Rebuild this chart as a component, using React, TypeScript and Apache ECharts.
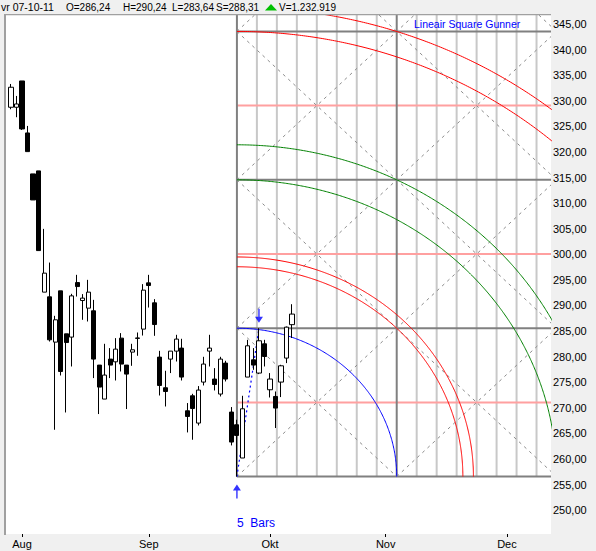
import React, { useEffect, useRef } from 'react';
import * as echarts from 'echarts';

// ---------- data ----------
const quoteDate = 'vr 07-10-11';
const lastVolume = '1.232.919';
const toolName = 'Lineair Square Gunner';
const barsLabel = '5  Bars';

const monthLabels = ['Aug', 'Sep', 'Okt', 'Nov', 'Dec'];
const monthBarIndex = [2, 25, 47, 68, 90];
const priceTicks = [250, 255, 260, 265, 270, 275, 280, 285, 290, 295, 300, 305, 310, 315, 320, 325, 330, 335, 340, 345];

const candleOpen = [
  328.73, 328.73, 333.87, 323.71, 315.7, 316.29, 292.6, 291.68, 282.83, 292.85,
  284.45, 283.81, 294.47, 290.96, 289.47, 288.95, 278.34, 271.7, 279.51, 278.98,
  283.61, 278.34, 280.88, 283.55, 285.37, 294.41, 290.51, 279.9, 273.91, 279.51,
  281.07, 281.66, 269.41, 272.34, 267.01, 275.02, 281.07, 275.61, 272.68, 278.73,
  269.16, 266.68, 260.18, 276.0, 279.37, 276.78, 282.5, 273.52, 272.21, 275.02,
  279.71, 286.24,
];
const candleClose = [
  332.64, 329.37, 324.49, 320.06, 310.62, 300.72, 296.31, 283.28, 287.19, 277.09,
  282.75, 291.87, 293.69, 291.43, 292.6, 279.51, 274.04, 276.39, 278.34, 281.46,
  278.54, 276.58, 281.33, 283.65, 292.99, 293.89, 286.27, 274.36, 273.18, 281.07,
  283.42, 276.0, 268.3, 269.86, 273.46, 278.54, 281.66, 274.55, 279.51, 275.61,
  263.3, 264.59, 269.8, 282.11, 278.34, 283.09, 280.02, 275.61, 269.94, 278.2,
  285.76, 288.31,
];
const candleLow = [
  328.34, 326.78, 324.3, 320.06, 310.62, 300.72, 292.6, 282.95, 265.7, 276.31,
  269.08, 278.07, 291.74, 287.19, 286.86, 275.8, 268.77, 271.7, 275.8, 275.33,
  277.09, 269.75, 278.2, 280.16, 284.12, 289.59, 284.06, 272.4, 270.25, 276.78,
  279.04, 275.33, 265.18, 263.75, 266.54, 274.36, 278.07, 273.38, 272.21, 275.14,
  262.64, 256.55, 260.18, 276.0, 277.42, 276.58, 278.07, 272.01, 266.04, 272.09,
  278.73, 283.64,
];
const candleHigh = [
  333.28, 330.94, 333.87, 325.08, 315.7, 316.29, 304.96, 298.38, 287.97, 292.85,
  284.45, 292.27, 295.98, 292.21, 295.0, 291.09, 278.34, 282.5, 281.66, 283.61,
  284.59, 278.34, 282.5, 284.71, 294.16, 295.98, 291.23, 281.13, 277.23, 281.07,
  284.26, 283.48, 270.92, 272.73, 274.24, 279.96, 284.26, 277.75, 279.96, 279.18,
  270.14, 267.66, 272.34, 283.28, 281.66, 285.55, 283.28, 276.78, 273.18, 278.4,
  285.88, 290.24,
];

// Gann square anchor (low bar -> high bar)
const squareStartBar = 41;
const squareHighBar = 45;
const squareLow = 256.55;
const squareHigh = 285.55;
const arcRadii = [1, 1.414, 1.48, 2, 2.236, 3, 3.162];

// ---------- styles / layout ----------
const arcColors = ['#0000ff', '#ff0000', '#ff0000', '#008000', '#008000', '#ff0000', '#ff0000'];
const X_MIN = -1.09;
const X_MAX = 98.0;
const Y_MIN = 245.33;
const Y_MAX = 346.76;
const FONT = '"Liberation Sans", Arial, sans-serif';

const fmt = (v: number) => v.toFixed(2).replace('.', ',');

export default function App() {
  const ref = useRef<HTMLDivElement>(null);

  useEffect(() => {
    const chart = echarts.init(ref.current!, null, { renderer: 'svg' });
    const S = squareHigh - squareLow; // price per square
    const B = S; // bars per square (1 bar = 1 point)
    const series: any[] = [];
    const seg = (data: number[][], color: string, width: number, type: any, z: number) =>
      series.push({
        type: 'line',
        data,
        showSymbol: false,
        symbol: 'none',
        silent: true,
        clip: true,
        animation: false,
        lineStyle: { color, width, type },
        z,
      });

    // vertical grid of the square (eighths)
    for (let k = 0; k <= 16; k++) {
      const x = squareStartBar + (k * B) / 8;
      if (x > X_MAX) break;
      const thick = k % 8 === 0;
      seg([[x, squareLow], [x, Y_MAX]], thick ? '#808080' : '#c8c8c8', 2, 'solid', thick ? 3 : 1);
    }
    // horizontal square lines and half lines
    for (let m = 0; m < 20; m++) {
      const y = squareLow + (m * S) / 2;
      if (y > Y_MAX) break;
      const thick = m % 2 === 0;
      seg([[squareStartBar, y], [X_MAX, y]], thick ? '#808080' : '#ffa0a0', 2, 'solid', thick ? 3 : 2);
    }
    // diagonals
    const U = (X_MAX - squareStartBar) / B;
    const V = (Y_MAX - squareLow) / S;
    const toData = (u: number, v: number) => [squareStartBar + u * B, squareLow + v * S];
    for (let n = -Math.ceil(U); n <= Math.ceil(V); n++) {
      const u0 = Math.max(0, -n);
      const u1 = Math.min(U, V - n);
      if (u1 > u0) seg([toData(u0, u0 + n), toData(u1, u1 + n)], '#8c8c8c', 1, [3, 4], 4);
    }
    for (let n = 1; n <= Math.ceil(U + V); n++) {
      const u0 = Math.max(0, n - V);
      const u1 = Math.min(U, n);
      if (u1 > u0) seg([toData(u0, n - u0), toData(u1, n - u1)], '#8c8c8c', 1, [3, 4], 4);
    }
    // arcs
    arcRadii.forEach((r, i) => {
      const pts: number[][] = [];
      for (let a = 0; a <= 360; a++) {
        const t = (a / 360) * (Math.PI / 2);
        pts.push(toData(r * Math.cos(t), r * Math.sin(t)));
      }
      seg(pts, arcColors[i], 1, 'solid', 5);
    });
    // low -> high dashed line
    seg([[squareStartBar, squareLow], [squareHighBar, squareHigh]], '#0000ff', 1.2, [2, 3], 6);

    // candles
    series.push({
      type: 'candlestick',
      data: candleOpen.map((o, i) => [i, o, candleClose[i], candleLow[i], candleHigh[i]]),
      encode: { x: 0, y: [1, 2, 3, 4] },
      barWidth: 4.6,
      silent: true,
      itemStyle: {
        color: '#ffffff',
        color0: '#000000',
        borderColor: '#000000',
        borderColor0: '#000000',
        borderWidth: 1,
      },
      z: 10,
    });

    // arrows
    const arrowPath = 'path://M4,0 L8,6 L4.7,6 L4.7,14 L3.3,14 L3.3,6 L0,6 Z';
    series.push({
      type: 'scatter',
      data: [[squareStartBar, squareLow - 2.9]],
      symbol: arrowPath,
      symbolSize: [8, 14],
      itemStyle: { color: '#0000ff' },
      silent: true,
      z: 11,
    });
    series.push({
      type: 'scatter',
      data: [[squareHighBar, squareHigh + 2.45]],
      symbol: arrowPath,
      symbolSize: [8, 14],
      symbolRotate: 180,
      itemStyle: { color: '#0000ff' },
      silent: true,
      z: 11,
    });

    const last = candleOpen.length - 1;
    const txt = (text: string, x: number, y: number, fill = '#000', size = 10) => ({
      type: 'text',
      x,
      y,
      silent: true,
      style: {
        text,
        fill,
        font: `${size}px ${FONT}`,
        textVerticalAlign: 'middle',
        verticalAlign: 'middle',
      },
      z: 200,
    });

    chart.setOption({
      animation: false,
      backgroundColor: 'transparent',
      grid: {
        left: 5,
        top: 15,
        width: 546,
        height: 519,
        show: true,
        backgroundColor: '#ffffff',
        borderWidth: 0,
        containLabel: false,
        outerBoundsMode: 'none',
      },
      xAxis: {
        type: 'value',
        min: X_MIN,
        max: X_MAX,
        position: 'bottom',
        axisLine: { show: false },
        splitLine: { show: false },
        axisTick: {
          show: true,
          customValues: monthBarIndex,
          length: 3,
          inside: false,
          lineStyle: { color: '#000', width: 1 },
        },
        axisLabel: {
          customValues: monthBarIndex,
          formatter: (v: number) => {
            const idx = monthBarIndex.indexOf(Math.round(v));
            return idx >= 0 ? monthLabels[idx] : '';
          },
          color: '#000',
          fontSize: 11,
          fontFamily: FONT,
          margin: 4,
        },
      },
      yAxis: {
        type: 'value',
        position: 'right',
        min: Y_MIN,
        max: Y_MAX,
        scale: true,
        axisLine: { show: false },
        axisTick: { show: false },
        splitLine: { show: false },
        axisLabel: {
          customValues: priceTicks,
          formatter: (v: number) => fmt(v),
          color: '#000',
          fontSize: 11,
          fontFamily: FONT,
          margin: 2,
        },
      },
      series,
      graphic: [
        { type: 'rect', silent: true, shape: { x: 4, y: 14, width: 2, height: 521 }, style: { fill: '#a0a0a0' }, z: 150 },
        { type: 'rect', silent: true, shape: { x: 4, y: 14, width: 547, height: 1.2 }, style: { fill: '#a0a0a0' }, z: 150 },
        txt(quoteDate, 1, 7, '#000', 10.5),
        txt(`O=${fmt(candleOpen[last])}`, 66, 7),
        txt(`H=${fmt(candleHigh[last])}`, 123, 7),
        txt(`L=${fmt(candleLow[last])}`, 172, 7),
        txt(`S=${fmt(candleClose[last])}`, 216, 7),
        {
          type: 'polygon',
          silent: true,
          shape: { points: [[265, 10.5], [277, 10.5], [271, 4]] },
          style: { fill: '#00c000' },
          z: 200,
        },
        txt(`V=${lastVolume}`, 279, 7),
        txt(toolName, 414, 24, '#0000ff', 10.5),
        txt(barsLabel, 237, 523, '#0000ff', 12),
      ],
    });

    return () => chart.dispose();
  }, []);

  return (
    <div
      style={{
        position: 'absolute',
        left: 0,
        top: 0,
        width: 596,
        height: 551,
        background: '#f0f0f0',
      }}
    >
      <div ref={ref} style={{ width: 596, height: 551 }} />
    </div>
  );
}
